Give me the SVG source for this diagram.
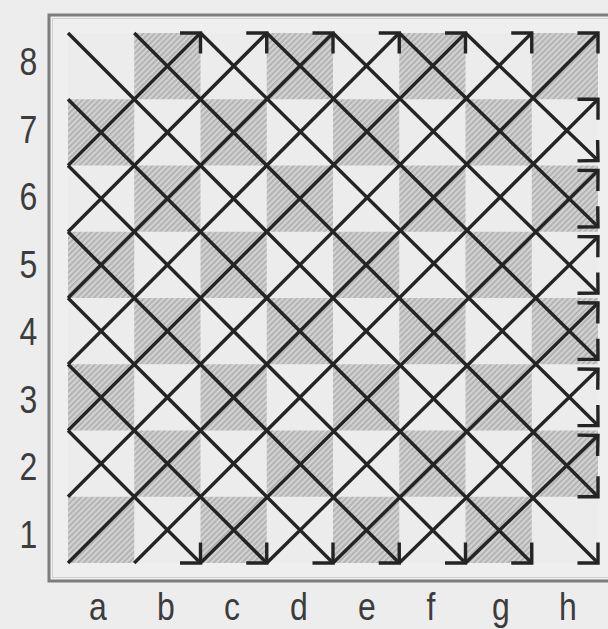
<svg xmlns="http://www.w3.org/2000/svg" width="608" height="629" viewBox="0 0 608 629">
<style>
.lbl{font-family:"Liberation Sans",Arial,sans-serif;font-size:39px;fill:#3c3c3c;text-anchor:middle}
.dk{fill:url(#hatch)}
.ln{stroke:#242424;stroke-width:3.4;fill:none}
.arr{marker-end:url(#ah)}
</style>
<defs>
<pattern id="hatch" patternUnits="userSpaceOnUse" width="4" height="4" patternTransform="rotate(45)">
<rect width="4" height="4" fill="#d2d2d2"/>
<line x1="1" y1="0" x2="1" y2="4" stroke="#a4a4a4" stroke-width="1.3"/>
</pattern>
<marker id="ah" markerUnits="userSpaceOnUse" markerWidth="40" markerHeight="40" refX="0" refY="0" viewBox="-20 -20 40 40" orient="auto" overflow="visible">
<path d="M-14.5,-14.5 L0,0 L-14.5,14.5" fill="none" stroke="#242424" stroke-width="3.4" stroke-linejoin="miter"/>
</marker>
</defs>
<rect width="608" height="629" fill="#ededed"/>
<g id="frame">
<rect x="49" y="15" width="568" height="566" fill="#efefef" stroke="#7d7d7d" stroke-width="3"/>
<rect x="52.5" y="18.5" width="561" height="559" fill="none" stroke="#d0d0d0" stroke-width="1"/>
</g>
<g id="board">
<rect x="68" y="33" width="530" height="530" fill="#ececec"/>
<g id="dark-squares">
<rect class="dk" x="134.25" y="33" width="66.25" height="66.25"/>
<rect class="dk" x="266.75" y="33" width="66.25" height="66.25"/>
<rect class="dk" x="399.25" y="33" width="66.25" height="66.25"/>
<rect class="dk" x="531.75" y="33" width="66.25" height="66.25"/>
<rect class="dk" x="68" y="99.25" width="66.25" height="66.25"/>
<rect class="dk" x="200.5" y="99.25" width="66.25" height="66.25"/>
<rect class="dk" x="333" y="99.25" width="66.25" height="66.25"/>
<rect class="dk" x="465.5" y="99.25" width="66.25" height="66.25"/>
<rect class="dk" x="134.25" y="165.5" width="66.25" height="66.25"/>
<rect class="dk" x="266.75" y="165.5" width="66.25" height="66.25"/>
<rect class="dk" x="399.25" y="165.5" width="66.25" height="66.25"/>
<rect class="dk" x="531.75" y="165.5" width="66.25" height="66.25"/>
<rect class="dk" x="68" y="231.75" width="66.25" height="66.25"/>
<rect class="dk" x="200.5" y="231.75" width="66.25" height="66.25"/>
<rect class="dk" x="333" y="231.75" width="66.25" height="66.25"/>
<rect class="dk" x="465.5" y="231.75" width="66.25" height="66.25"/>
<rect class="dk" x="134.25" y="298" width="66.25" height="66.25"/>
<rect class="dk" x="266.75" y="298" width="66.25" height="66.25"/>
<rect class="dk" x="399.25" y="298" width="66.25" height="66.25"/>
<rect class="dk" x="531.75" y="298" width="66.25" height="66.25"/>
<rect class="dk" x="68" y="364.25" width="66.25" height="66.25"/>
<rect class="dk" x="200.5" y="364.25" width="66.25" height="66.25"/>
<rect class="dk" x="333" y="364.25" width="66.25" height="66.25"/>
<rect class="dk" x="465.5" y="364.25" width="66.25" height="66.25"/>
<rect class="dk" x="134.25" y="430.5" width="66.25" height="66.25"/>
<rect class="dk" x="266.75" y="430.5" width="66.25" height="66.25"/>
<rect class="dk" x="399.25" y="430.5" width="66.25" height="66.25"/>
<rect class="dk" x="531.75" y="430.5" width="66.25" height="66.25"/>
<rect class="dk" x="68" y="496.75" width="66.25" height="66.25"/>
<rect class="dk" x="200.5" y="496.75" width="66.25" height="66.25"/>
<rect class="dk" x="333" y="496.75" width="66.25" height="66.25"/>
<rect class="dk" x="465.5" y="496.75" width="66.25" height="66.25"/>
</g>
</g>
<g id="connectors">
<g id="diag-down">
<line class="ln arr" x1="68" y1="430.5" x2="200.5" y2="563"/>
<line class="ln arr" x1="68" y1="364.25" x2="266.75" y2="563"/>
<line class="ln arr" x1="68" y1="298" x2="333" y2="563"/>
<line class="ln arr" x1="68" y1="231.75" x2="399.25" y2="563"/>
<line class="ln arr" x1="68" y1="165.5" x2="465.5" y2="563"/>
<line class="ln arr" x1="68" y1="99.25" x2="531.75" y2="563"/>
<line class="ln arr" x1="68" y1="33" x2="598" y2="563"/>
<line class="ln arr" x1="134.25" y1="33" x2="598" y2="496.75"/>
<line class="ln arr" x1="200.5" y1="33" x2="598" y2="425.5"/>
<line class="ln arr" x1="266.75" y1="33" x2="598" y2="359.25"/>
<line class="ln arr" x1="333" y1="33" x2="598" y2="293"/>
<line class="ln arr" x1="399.25" y1="33" x2="598" y2="226.75"/>
<line class="ln arr" x1="465.5" y1="33" x2="598" y2="160.5"/>
</g>
<g id="diag-up">
<line class="ln arr" x1="68" y1="165.5" x2="200.5" y2="33"/>
<line class="ln arr" x1="68" y1="231.75" x2="266.75" y2="33"/>
<line class="ln arr" x1="68" y1="298" x2="333" y2="33"/>
<line class="ln arr" x1="68" y1="364.25" x2="399.25" y2="33"/>
<line class="ln arr" x1="68" y1="430.5" x2="465.5" y2="33"/>
<line class="ln arr" x1="68" y1="496.75" x2="531.75" y2="33"/>
<line class="ln arr" x1="68" y1="563" x2="598" y2="33"/>
<line class="ln arr" x1="134.25" y1="563" x2="598" y2="99.25"/>
<line class="ln arr" x1="200.5" y1="563" x2="598" y2="170.5"/>
<line class="ln arr" x1="266.75" y1="563" x2="598" y2="236.75"/>
<line class="ln arr" x1="333" y1="563" x2="598" y2="303"/>
<line class="ln arr" x1="399.25" y1="563" x2="598" y2="369.25"/>
<line class="ln arr" x1="465.5" y1="563" x2="598" y2="435.5"/>
</g>
</g>
<g id="ranks">
<text class="lbl" transform="translate(28.5,75) scale(0.82,1)">8</text>
<text class="lbl" transform="translate(28.5,142.6) scale(0.82,1)">7</text>
<text class="lbl" transform="translate(28.5,210.1) scale(0.82,1)">6</text>
<text class="lbl" transform="translate(28.5,277.7) scale(0.82,1)">5</text>
<text class="lbl" transform="translate(28.5,345.3) scale(0.82,1)">4</text>
<text class="lbl" transform="translate(28.5,412.9) scale(0.82,1)">3</text>
<text class="lbl" transform="translate(28.5,480.4) scale(0.82,1)">2</text>
<text class="lbl" transform="translate(28.5,548) scale(0.82,1)">1</text>
</g>
<g id="files">
<text class="lbl" transform="translate(98,620) scale(0.82,1)">a</text>
<text class="lbl" transform="translate(166,620) scale(0.82,1)">b</text>
<text class="lbl" transform="translate(232,620) scale(0.82,1)">c</text>
<text class="lbl" transform="translate(299,620) scale(0.82,1)">d</text>
<text class="lbl" transform="translate(367,620) scale(0.82,1)">e</text>
<text class="lbl" transform="translate(431,620) scale(0.82,1)">f</text>
<text class="lbl" transform="translate(501,620) scale(0.82,1)">g</text>
<text class="lbl" transform="translate(568,620) scale(0.82,1)">h</text>
</g>
</svg>
